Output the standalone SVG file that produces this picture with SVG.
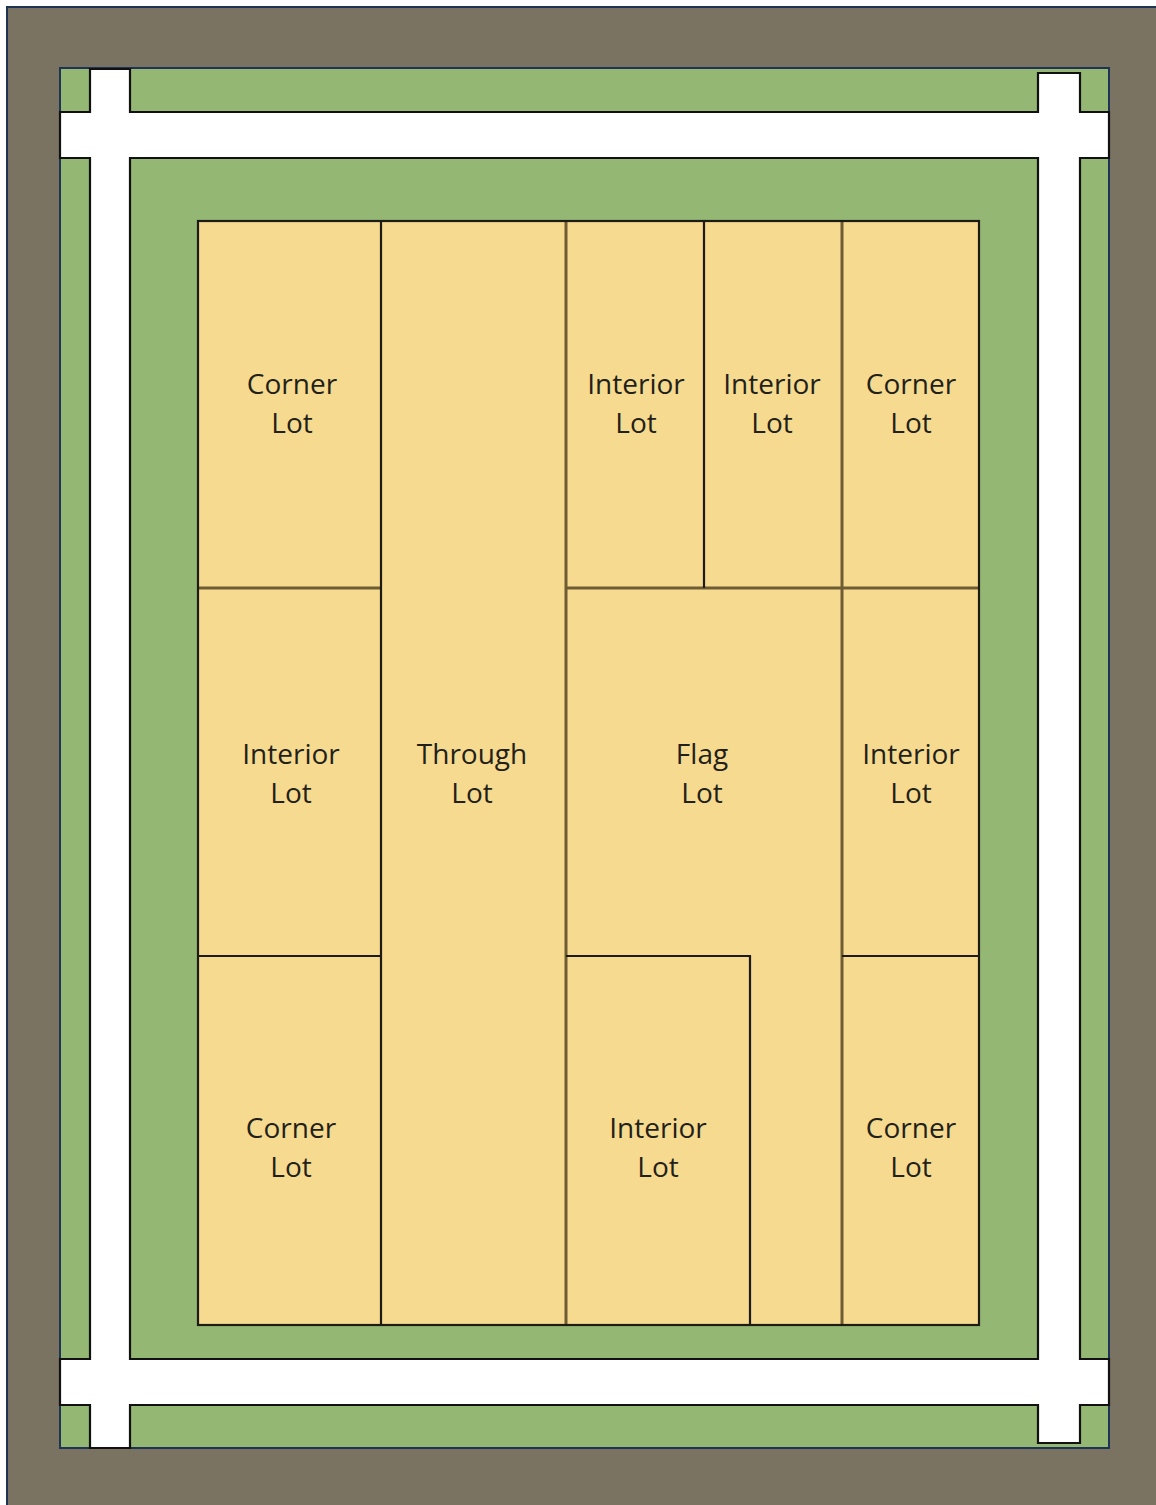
<svg xmlns="http://www.w3.org/2000/svg" width="1156" height="1505" viewBox="0 0 1156 1505">
<style>
.lot{fill:#f5da8f;stroke:none}
.lbl{font-family:"Open Sans","Liberation Sans",sans-serif;font-size:28px;fill:#231f1a;text-anchor:middle}
.blk{stroke:#1e1b16;stroke-width:2.2;fill:none}
.brn{stroke:#6e5c34;stroke-width:3;fill:none}
</style>
<g id="background">
<rect x="7" y="7" width="1160" height="1510" fill="#7a7362" stroke="#1f3455" stroke-width="2"/>
<rect x="60" y="68" width="1049" height="1380" fill="#94b874" stroke="#1f3455" stroke-width="2"/>
</g>
<g id="streets">
<path d="M90,69 L130,69 L130,112 L1038,112 L1038,73 L1080,73 L1080,112 L1109,112 L1109,158 L1080,158 L1080,1359 L1109,1359 L1109,1405 L1080,1405 L1080,1443 L1038,1443 L1038,1405 L130,1405 L130,1448 L90,1448 L90,1405 L60,1405 L60,1359 L90,1359 L90,158 L60,158 L60,112 L90,112 Z M130,158 L130,1359 L1038,1359 L1038,158 Z" fill="#ffffff" fill-rule="evenodd" stroke="#111" stroke-width="2.2" stroke-linejoin="miter"/>
</g>
<g id="lot-corner-tl"><rect class="lot" x="198" y="221" width="183" height="367"/><text class="lbl" x="292" y="394">Corner</text><text class="lbl" x="292" y="433">Lot</text></g>
<g id="lot-interior-l"><rect class="lot" x="198" y="588" width="183" height="368"/><text class="lbl" x="291" y="764">Interior</text><text class="lbl" x="291" y="803">Lot</text></g>
<g id="lot-corner-bl"><rect class="lot" x="198" y="956" width="183" height="369"/><text class="lbl" x="291" y="1138">Corner</text><text class="lbl" x="291" y="1177">Lot</text></g>
<g id="lot-through"><rect class="lot" x="381" y="221" width="185" height="1104"/><text class="lbl" x="472" y="764">Through</text><text class="lbl" x="472" y="803">Lot</text></g>
<g id="lot-interior-t1"><rect class="lot" x="566" y="221" width="138" height="367"/><text class="lbl" x="636" y="394">Interior</text><text class="lbl" x="636" y="433">Lot</text></g>
<g id="lot-interior-t2"><rect class="lot" x="704" y="221" width="138" height="367"/><text class="lbl" x="772" y="394">Interior</text><text class="lbl" x="772" y="433">Lot</text></g>
<g id="lot-corner-tr"><rect class="lot" x="842" y="221" width="137" height="367"/><text class="lbl" x="911" y="394">Corner</text><text class="lbl" x="911" y="433">Lot</text></g>
<g id="lot-flag"><path class="lot" d="M566,588 L842,588 L842,1325 L750,1325 L750,956 L566,956 Z"/><text class="lbl" x="702" y="764">Flag</text><text class="lbl" x="702" y="803">Lot</text></g>
<g id="lot-interior-r"><rect class="lot" x="842" y="588" width="137" height="368"/><text class="lbl" x="911" y="764">Interior</text><text class="lbl" x="911" y="803">Lot</text></g>
<g id="lot-interior-b"><rect class="lot" x="566" y="956" width="184" height="369"/><text class="lbl" x="658" y="1138">Interior</text><text class="lbl" x="658" y="1177">Lot</text></g>
<g id="lot-corner-br"><rect class="lot" x="842" y="956" width="137" height="369"/><text class="lbl" x="911" y="1138">Corner</text><text class="lbl" x="911" y="1177">Lot</text></g>
<g id="connectors">
<line class="brn" x1="198" y1="588" x2="381" y2="588"/>
<line class="brn" x1="566" y1="588" x2="979" y2="588"/>
<line class="brn" x1="566" y1="221" x2="566" y2="1325"/>
<line class="brn" x1="842" y1="221" x2="842" y2="1325"/>
<line class="blk" x1="381" y1="221" x2="381" y2="1325"/>
<line class="blk" x1="704" y1="221" x2="704" y2="588"/>
<line class="blk" x1="198" y1="956" x2="381" y2="956"/>
<line class="blk" x1="842" y1="956" x2="979" y2="956"/>
<polyline class="blk" points="566,956 750,956 750,1325"/>
<rect class="blk" x="198" y="221" width="781" height="1104"/>
</g>
</svg>
